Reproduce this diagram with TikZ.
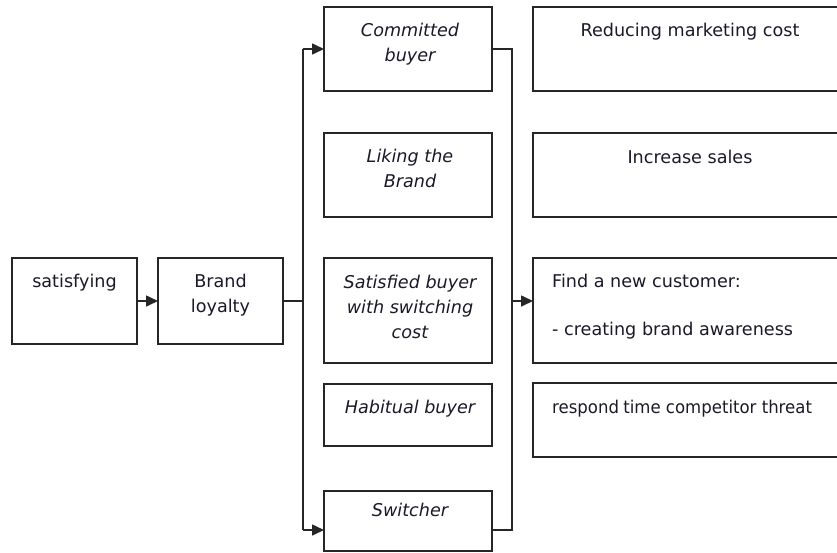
\documentclass[tikz,border=0pt]{standalone}
\usepackage{fontspec}
\setmainfont{DejaVu Sans}
\usetikzlibrary{arrows.meta,calc}
\definecolor{linec}{HTML}{262626}
\definecolor{txtc}{HTML}{1A1A28}
\begin{document}
\begin{tikzpicture}[x=1pt,y=-1pt,
  font=\fontsize{17.6}{25}\selectfont,
  box/.style={draw=linec, line width=1.6pt, anchor=north west, inner sep=0pt, outer sep=0pt, rectangle},
  lbl/.style={anchor=base, align=center, inner sep=0pt, text=txtc},
  lbll/.style={anchor=base west, align=left, inner sep=0pt, text=txtc},
  itl/.style={font=\fontsize{17.6}{25}\selectfont\itshape},
  conn/.style={draw=linec, line width=1.6pt},
  arr/.style={conn, -{Triangle[length=12pt,width=11pt]}}]
\clip (0,0) rectangle (837,552);
\fill[white] (0,0) rectangle (837,552);
% boxes
\node[box, minimum width=125pt, minimum height=86pt] (sat) at (12,258) {};
\node[box, minimum width=125pt, minimum height=86pt] (brand) at (158,258) {};
\node[box, minimum width=168pt, minimum height=84pt] (committed) at (324,7) {};
\node[box, minimum width=168pt, minimum height=84pt] (liking) at (324,133) {};
\node[box, minimum width=168pt, minimum height=105pt] (satisfied) at (324,258) {};
\node[box, minimum width=168pt, minimum height=62pt] (habitual) at (324,384) {};
\node[box, minimum width=168pt, minimum height=60pt] (switcher) at (324,491) {};
\node[box, minimum width=314pt, minimum height=84pt] (reducing) at (533,7) {};
\node[box, minimum width=314pt, minimum height=84pt] (increase) at (533,133) {};
\node[box, minimum width=314pt, minimum height=105pt] (find) at (533,258) {};
\node[box, minimum width=314pt, minimum height=74pt] (respond) at (533,383) {};
% texts (base anchor = baseline of last line)
\node[lbl] (tsat) at ($(sat.north)+(0,29)$) {satisfying};
\node[lbl] (tbrand) at ($(brand.north)+(0,54)$) {Brand\\loyalty};
\node[lbl, itl] (tcom) at ($(committed.north)+(2,54)$) {Committed\\buyer};
\node[lbl, itl] (tlik) at ($(liking.north)+(2,54)$) {Liking the\\Brand};
\node[lbl, itl] (tsats) at ($(satisfied.north)+(2,80)$) {Satisfied buyer\\with switching\\cost};
\node[lbl, itl] (thab) at ($(habitual.north)+(2,29)$) {Habitual buyer};
\node[lbl, itl] (tswi) at ($(switcher.north)+(2,25)$) {Switcher};
\node[lbl] (tred) at ($(reducing.north)+(0,29)$) {Reducing marketing cost};
\node[lbl] (tinc) at ($(increase.north)+(0,30)$) {Increase sales};
\node[lbll] (tfind) at ($(find.north west)+(19,77)$) {Find a new customer:\\[23pt]- creating brand awareness};
\node[lbll] (tresp) at ($(respond.north west)+(19,30)$) {\scalebox{0.94}[1]{respond\kern-1pt\ time competitor threat}};
% connectors
\coordinate (rm) at (512,301);
\coordinate (lm) at (303,301);
\coordinate (lb) at (303,530);
\coordinate (rb) at (512,530);
\coordinate (lt) at (committed.west -| lm);
\coordinate (rt) at (committed.east -| rm);
\draw[arr] (sat.east) -- (brand.west);
\draw[conn] (brand.east) -- (brand.east -| lt);
\draw[conn] (lt) -- (lb);
\draw[arr] (lt) -- (committed.west);
\draw[arr] (lb) -- (lb -| switcher.west);
\draw[conn] (committed.east) -- (rt) -- (rb) -- (rb -| switcher.east);
\draw[arr] (rm) -- (rm -| find.west);
\end{tikzpicture}
\end{document}
